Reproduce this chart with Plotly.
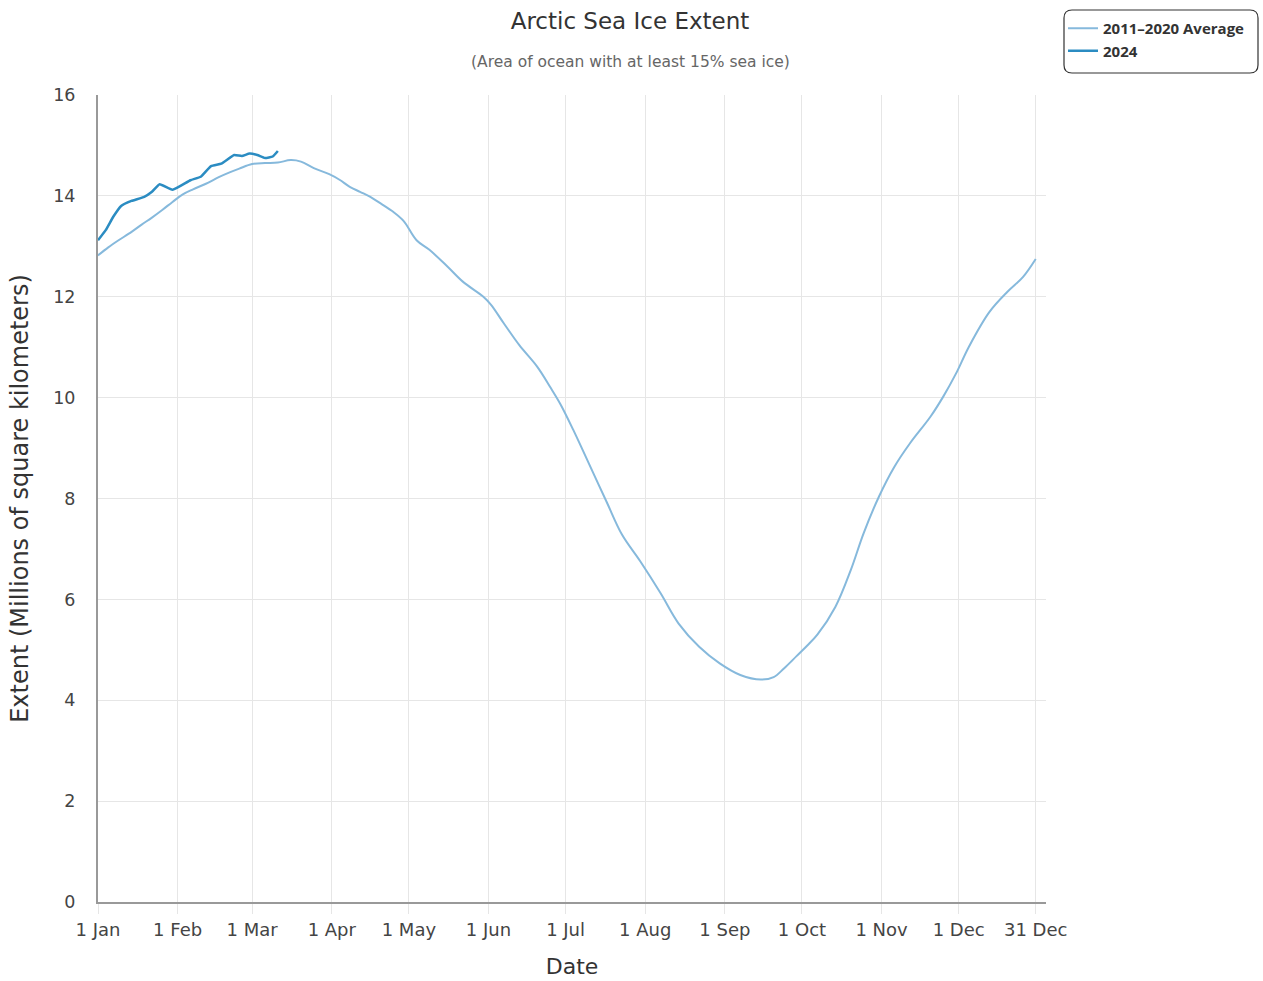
import plotly.graph_objects as go

# Day of year (0 = 1 Jan) and extent in millions of km^2
avg_days = [0, 4, 8, 12, 17, 21, 25, 29, 33, 37, 42, 47, 51, 55, 60, 65, 70, 75, 79, 84,
            90, 94, 98, 102, 106, 110, 115, 119, 124, 129, 136, 142, 150, 153, 158, 164,
            171, 176, 180, 185, 191, 198, 204, 211, 219, 226, 234, 242, 250, 258, 263,
            267, 272, 276, 280, 287, 293, 298, 304, 310, 316, 324, 329, 334, 339, 347,
            354, 360, 365]
avg_values = [12.82, 12.98, 13.12, 13.25, 13.43, 13.57, 13.72, 13.88, 14.03, 14.13, 14.24,
              14.37, 14.46, 14.54, 14.63, 14.65, 14.66, 14.71, 14.68, 14.55, 14.43, 14.32,
              14.18, 14.08, 13.98, 13.85, 13.68, 13.50, 13.12, 12.93, 12.60, 12.30, 12.00,
              11.84, 11.47, 11.04, 10.61, 10.21, 9.87, 9.36, 8.70, 7.93, 7.28, 6.76, 6.12,
              5.52, 5.06, 4.73, 4.50, 4.41, 4.46, 4.63, 4.88, 5.08, 5.30, 5.85, 6.58, 7.31,
              8.04, 8.63, 9.09, 9.62, 10.02, 10.48, 11.01, 11.70, 12.10, 12.39, 12.75]

y2024_days = [0, 3, 6, 9, 13, 18, 21, 24, 29, 36, 40, 44, 48, 53, 56, 59, 62, 65, 68, 70]
y2024_values = [13.12, 13.32, 13.59, 13.80, 13.90, 13.98, 14.08, 14.23, 14.12, 14.31, 14.38,
                14.59, 14.64, 14.81, 14.79, 14.84, 14.81, 14.75, 14.78, 14.89]

tick_days = [0, 31, 60, 91, 121, 152, 182, 213, 244, 274, 305, 335, 365]
tick_labels = ["1 Jan", "1 Feb", "1 Mar", "1 Apr", "1 May", "1 Jun", "1 Jul",
               "1 Aug", "1 Sep", "1 Oct", "1 Nov", "1 Dec", "31 Dec"]
y_ticks = [0, 2, 4, 6, 8, 10, 12, 14, 16]

FONT = "DejaVu Sans"
W, H = 1263, 981
# plot area in page pixels
L, R, T, B = 98, 1046, 95, 902

def px_x(p):
    return (p - L) / (R - L)

def px_y(p):
    return (B - p) / (B - T)

fig = go.Figure()
fig.add_trace(go.Scatter(x=avg_days, y=avg_values, mode="lines", name="2011\u20132020 Average",
                         line=dict(color="#86b9dc", width=2, shape="spline", smoothing=1.0)))
fig.add_trace(go.Scatter(x=y2024_days, y=y2024_values, mode="lines", name="2024",
                         line=dict(color="#2b8cc2", width=2.5, shape="spline", smoothing=0.4)))

fig.update_layout(
    width=W, height=H,
    margin=dict(l=L, r=W - R, t=T, b=H - B, autoexpand=False),
    paper_bgcolor="white", plot_bgcolor="white",
    font=dict(family=FONT, color="#333"),
    showlegend=True,
    legend=dict(xref="paper", yref="paper", x=px_x(1063), y=px_y(12),
                xanchor="left", yanchor="top", bgcolor="rgba(0,0,0,0)",
                font=dict(size=15, color="#333", family="Open Sans", weight="bold"),
                borderwidth=0, tracegroupgap=0, itemwidth=30),
    xaxis=dict(range=[0, 369], tickmode="array", tickvals=tick_days, ticktext=tick_labels,
               showgrid=True, gridcolor="#e6e6e6", gridwidth=1, automargin=False,
               ticks="outside", ticklen=10, tickcolor="#e6e6e6",
               showline=True, linecolor="#999", linewidth=2,
               tickfont=dict(size=18, color="#444"), zeroline=False,
               title=dict(text="Date", font=dict(size=22, color="#333"), standoff=20)),
    yaxis=dict(range=[0, 16], tickmode="array", tickvals=y_ticks,
               showgrid=True, gridcolor="#e6e6e6", gridwidth=1, automargin=False,
               ticks="", ticklabelstandoff=17,
               showline=True, linecolor="#999", linewidth=2, zeroline=False,
               tickfont=dict(size=17.5, color="#444"),
               title=dict(text="Extent (Millions of square kilometers)",
                          font=dict(size=24, color="#333"), standoff=18)),
    title=dict(text="Arctic Sea Ice Extent", x=630 / W, xanchor="center", xref="container",
               y=1 - 21 / H, yanchor="middle", yref="container",
               font=dict(size=23, color="#333")),
    annotations=[dict(text="(Area of ocean with at least 15% sea ice)", xref="paper", yref="paper",
                      x=px_x(630), y=px_y(62), xanchor="center", yanchor="middle",
                      showarrow=False, font=dict(size=15.5, color="#666"))],
)

# rounded legend box
x0, x1 = px_x(1064), px_x(1258)
y0, y1 = px_y(73), px_y(10)
rx, ry = 8 / (R - L), 8 / (B - T)
path = (f"M {x0+rx},{y1} L {x1-rx},{y1} Q {x1},{y1} {x1},{y1-ry} L {x1},{y0+ry} "
        f"Q {x1},{y0} {x1-rx},{y0} L {x0+rx},{y0} Q {x0},{y0} {x0},{y0+ry} "
        f"L {x0},{y1-ry} Q {x0},{y1} {x0+rx},{y1} Z")
fig.add_shape(type="path", path=path, xref="paper", yref="paper",
              line=dict(color="#333", width=1.2), layer="above")

fig.write_html("out.html", config={"displayModeBar": False},
               post_script="document.body.style.margin='0';document.body.style.overflow='hidden';")
